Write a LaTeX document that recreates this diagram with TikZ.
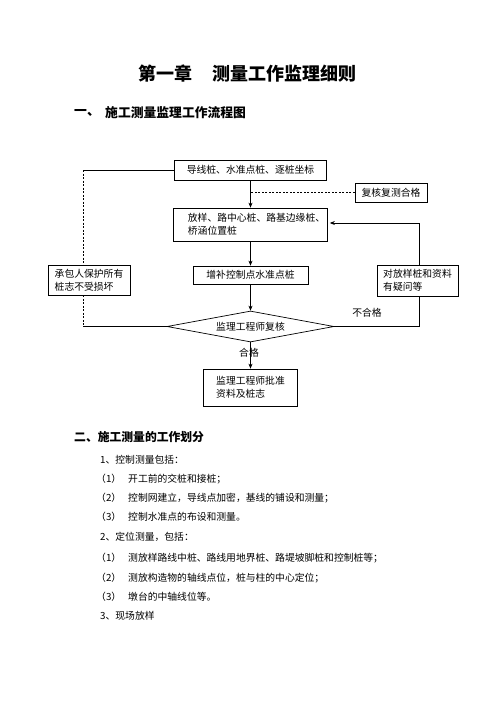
\documentclass[tikz,border=0pt]{standalone}
\usepackage{fontspec}
\newfontfamily\cjk{Noto Sans CJK SC}
\usetikzlibrary{shapes.geometric,arrows.meta}

\tikzset{
  box/.style={draw, line width=0.7pt, inner sep=0pt, align=left,
    font=\cjk\fontsize{9.8}{13}\selectfont},
  txt/.style={inner sep=0pt, anchor=west, font=\cjk\fontsize{9.8}{12}\selectfont},
  arr/.style={-{Stealth[length=5pt,width=4pt]}, line width=0.7pt},
  ln/.style={line width=0.7pt},
  dsh/.style={line width=0.7pt, dash pattern=on 2pt off 1.5pt}
}

\begin{document}
\begin{tikzpicture}[x=1pt,y=-1pt]
\useasboundingbox (0,0) rectangle (496,702);

% headings
\node[font=\cjk\bfseries\fontsize{18}{18}\selectfont, inner sep=0pt] (title) at (247.5,74) {第一章\hspace{1.1em}测量工作监理细则};
\node[txt, font=\cjk\bfseries\fontsize{12.8}{13}\selectfont] (h1num) at (74,113) {一、};
\node[txt, font=\cjk\bfseries\fontsize{12.8}{13}\selectfont] (h1) at (105,113) {施工测量监理工作流程图};

% flow chart
\node[box, minimum width=152pt, minimum height=20pt] (survey) at (250.5,170) {导线桩、水准点桩、逐桩坐标};
\node[box, minimum width=72pt, minimum height=19pt] (recheck) at (391,192.5) {复核复测合格};
\node[box, minimum width=154pt, minimum height=33pt] (stake) at (250.5,224.5) {\hspace*{12pt}放样、路中心桩、路基边缘桩、\\\hspace*{12pt}桥涵位置桩};
\node[box, minimum width=115pt, minimum height=18pt] (addbm) at (250.5,275) {增补控制点水准点桩};
\node[box, minimum width=82pt, minimum height=30pt] (protect) at (89,280) {承包人保护所有\\桩志不受损坏};
\node[box, minimum width=81pt, minimum height=31pt] (doubt) at (417.5,280.5) {对放样桩和资料\\有疑问等};
\node[box, diamond, aspect=5, minimum width=167pt, minimum height=31pt] (review) at (250.5,326.5) {监理工程师复核};
\node[box, minimum width=94pt, minimum height=37pt] (approve) at (250.5,387.5) {监理工程师批准\\资料及桩志};

\coordinate (ltop) at (83,170);
\coordinate (lbot) at (83,326.5);
\coordinate (rbot) at (419,326.5);
\coordinate (rtop) at (419,223);

\draw[arr] (survey) -- (stake);
\draw[dsh] (recheck.west) -- (recheck.west -| survey.south);
\draw[ln] (survey.west) -- (ltop);
\draw[dsh] (ltop) -- (ltop |- protect.north);
\draw[dsh] (lbot |- protect.south) -- (lbot);
\draw[ln] (lbot) -- (review.west);
\draw[arr] (stake) -- (addbm);
\draw[arr] (addbm) -- (review);
\draw[ln] (review.east) -- (rbot) -- (rbot |- doubt.south);
\draw[arr, shorten >=2pt] (rtop |- doubt.north) -- (rtop) -- (rtop -| stake.east);
\draw[arr] (review) -- (approve);
\node[txt, anchor=center] (pass) at (249,353) {合格};
\node[txt, anchor=center] (fail) at (367,313) {不合格};

% section two
\node[txt, font=\cjk\bfseries\fontsize{11.8}{13}\selectfont] (h2) at (74,437) {二、施工测量的工作划分};
\node[txt] (c1) at (100,460) {1、控制测量包括：};
\node[txt] (c1a) at (96,479) {（1）};
\node[txt] (c1at) at (128,479) {开工前的交桩和接桩；};
\node[txt] (c1b) at (96,498) {（2）};
\node[txt] (c1bt) at (128,498) {控制网建立，导线点加密，基线的铺设和测量；};
\node[txt] (c1c) at (96,517) {（3）};
\node[txt] (c1ct) at (128,517) {控制水准点的布设和测量。};
\node[txt] (c2) at (100,537) {2、定位测量，包括：};
\node[txt] (c2a) at (96,558) {（1）};
\node[txt] (c2at) at (128,558) {测放样路线中桩、路线用地界桩、路堤坡脚桩和控制桩等；};
\node[txt] (c2b) at (96,578) {（2）};
\node[txt] (c2bt) at (128,578) {测放构造物的轴线点位，桩与柱的中心定位；};
\node[txt] (c2c) at (96,597) {（3）};
\node[txt] (c2ct) at (128,597) {墩台的中轴线位等。};
\node[txt] (c3) at (100,616) {3、现场放样};
\end{tikzpicture}
\end{document}
